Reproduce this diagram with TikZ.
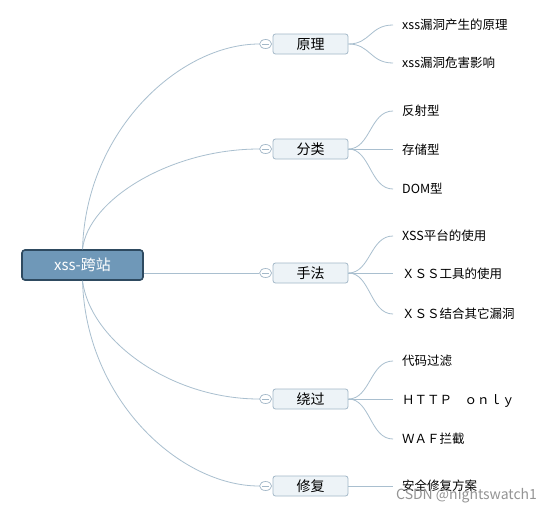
\documentclass[tikz,border=0pt]{standalone}
\usepackage{fontspec}
\setmainfont{Noto Sans CJK SC}
\usetikzlibrary{shapes.geometric}
\definecolor{linkc}{HTML}{A9BFCF}
\definecolor{centfill}{HTML}{6F98B8}
\definecolor{centdraw}{HTML}{2E4A60}
\definecolor{brfill}{HTML}{EDF3F7}
\definecolor{brdraw}{HTML}{A3B8C8}
\begin{document}
\begin{tikzpicture}[x=1pt,y=-1pt,
  centbox/.style={draw=centdraw,fill=centfill,line width=1.6pt,rounded corners=3pt,
    minimum width=121pt,minimum height=30pt,inner sep=0pt,text=white,font=\fontsize{15}{17}\selectfont},
  brbox/.style={draw=brdraw,fill=brfill,line width=0.8pt,rounded corners=2.5pt,
    minimum width=75pt,minimum height=20pt,inner sep=0pt,font=\fontsize{14}{16}\selectfont},
  knob/.style={ellipse,draw=brdraw,fill=white,line width=0.7pt,minimum width=12pt,minimum height=9pt,inner sep=0pt,
    path picture={\draw[brdraw,line width=0.7pt] ([xshift=-3.5pt]path picture bounding box.center) -- ([xshift=3.5pt]path picture bounding box.center);}},
  leaf/.style={anchor=west,inner sep=0pt,font=\fontsize{12.5}{14}\selectfont},
  link/.style={draw=linkc,line width=0.8pt}]
\useasboundingbox (0,0) rectangle (554,512);
\fill[white] (0,0) rectangle (554,512);

\node[centbox] (c) at (82.5,265) {xss-跨站};

% branch nodes
\node[brbox] (b1) at (310.5,44) {原理};
\node[brbox] (b2) at (310.5,149) {分类};
\node[brbox] (b3) at (310.5,273) {手法};
\node[brbox] (b4) at (310.5,399) {绕过};
\node[brbox] (b5) at (310.5,486) {修复};

\foreach \i in {1,...,5}{
  \node[knob] (k\i) at ([xshift=-7pt]b\i.west) {};
}

% main connectors
\draw[link] (c.north) .. controls (86,130) and (180,44) .. (k1.west);
\draw[link] (c.north) .. controls (88,200) and (170,149) .. (k2.west);
\draw[link] (c.east |- k3.west) -- (k3.west);
\draw[link] (c.south) .. controls (90,340) and (170,399) .. (k4.west);
\draw[link] (c.south) .. controls (86,400) and (180,486) .. (k5.west);

% leaves
\node[leaf] (l11) at (402,25) {xss漏洞产生的原理};
\node[leaf] (l12) at (402,63) {xss漏洞危害影响};
\node[leaf] (l21) at (402,111) {反射型};
\node[leaf] (l22) at (402,150) {存储型};
\node[leaf] (l23) at (402,189) {DOM型};
\node[leaf] (l31) at (402,236) {XSS平台的使用};
\node[leaf] (l32) at (402,274) {ＸＳＳ工具的使用};
\node[leaf] (l33) at (402,314) {ＸＳＳ结合其它漏洞};
\node[leaf] (l41) at (402,361) {代码过滤};
\node[leaf] (l42) at (402,401) {ＨＴＴＰ　ｏｎｌｙ};
\node[leaf] (l43) at (402,439) {ＷＡＦ拦截};
\node[leaf] (l51) at (402,486) {安全修复方案};

% leaf connectors
\foreach \b/\l in {b1/l11,b1/l12,b2/l21,b2/l23,b3/l31,b3/l33,b4/l41,b4/l43}{
  \draw[link] (\b.east) .. controls ([xshift=22pt]\b.east) and ([xshift=-32pt]\l.west) .. ([xshift=-9pt]\l.west);
}
\foreach \b/\l in {b2/l22,b3/l32,b4/l42,b5/l51}{
  \draw[link] (\b.east) -- ([xshift=-9pt]\b.east -| \l.west);
}

\node[anchor=west,inner sep=0pt,text=black!42,font=\fontsize{14}{16}\selectfont] (wm) at (396,496) {CSDN @nightswatch1};
\end{tikzpicture}
\end{document}
